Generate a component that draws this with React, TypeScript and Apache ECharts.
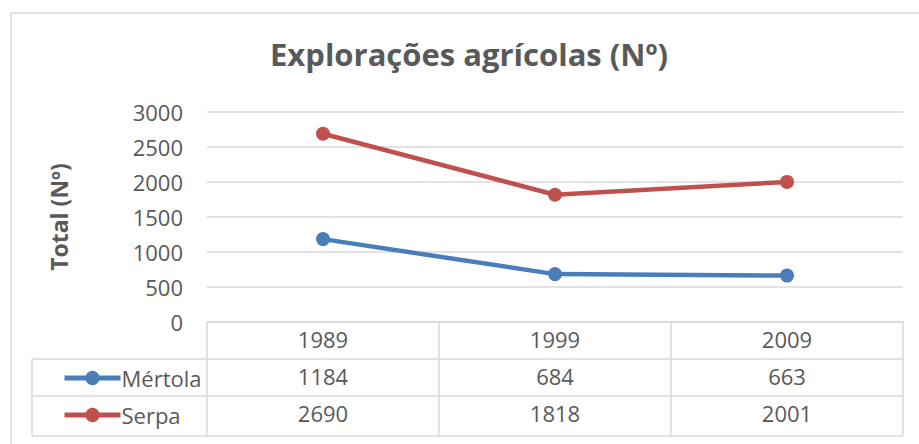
import React, { useEffect, useRef } from "react";
import * as echarts from "echarts";

const TITLE = "Explorações agrícolas (Nº)";
const Y_NAME = "Total (Nº)";
const YEARS = ["1989", "1999", "2009"];
const MERTOLA = [1184, 684, 663];
const SERPA = [2690, 1818, 2001];
const SERIES_NAMES = ["Mértola", "Serpa"];
const COLORS = ["#4a7ebb", "#c0504d"];

const FONT = "'Open Sans', 'Noto Sans', sans-serif";
const TEXT = "#595959";
const GRID = "#d9d9d9";
const FS = 22;

export default function App() {
  const ref = useRef<HTMLDivElement>(null);
  useEffect(() => {
    if (!ref.current) return;
    const chart = echarts.init(ref.current, undefined, { renderer: "svg" });
    const rowAxis = (data: number[], offset: number) => ({
      type: "category",
      position: "bottom",
      offset,
      data: data.map(String),
      axisLine: { show: false },
      axisTick: { show: false },
      splitLine: { show: false },
      axisLabel: { color: TEXT, fontSize: FS, fontFamily: FONT, margin: 6 },
    });
    chart.setOption({
      animation: false,
      textStyle: { fontFamily: FONT },
      title: {
        text: TITLE,
        left: 270,
        top: 38,
        padding: 0,
        textStyle: { color: TEXT, fontSize: 31, fontWeight: "bold", fontFamily: FONT },
      },
      legend: {
        orient: "vertical",
        left: 62,
        top: 367,
        padding: 0,
        itemWidth: 56,
        itemHeight: 18,
        itemGap: 15,
        data: SERIES_NAMES,
        lineStyle: { width: 5 },
        textStyle: { color: TEXT, fontSize: FS, fontFamily: FONT, lineHeight: 22, padding: [0, 0, 0, -4] },
      },
      grid: { left: 207, right: 16, top: 112, bottom: 122, containLabel: false },
      xAxis: [
        {
          type: "category",
          data: YEARS,
          position: "bottom",
          axisLine: { show: true, lineStyle: { color: GRID, width: 1.5 } },
          axisTick: { show: true, interval: 0, length: 114, lineStyle: { color: GRID, width: 1.5 } },
          axisLabel: { color: TEXT, fontSize: FS, fontFamily: FONT, margin: 6 },
          splitLine: { show: false },
        },
        rowAxis(MERTOLA, 37),
        rowAxis(SERPA, 74),
      ],
      yAxis: {
        type: "value",
        min: 0,
        max: 3000,
        interval: 500,
        name: Y_NAME,
        nameLocation: "middle",
        nameRotate: 90,
        nameGap: 137,
        nameTextStyle: { color: TEXT, fontSize: 23, fontWeight: "bold", fontFamily: FONT },
        axisLine: { show: false },
        axisTick: { show: false },
        axisLabel: {
          color: TEXT,
          fontSize: FS,
          fontFamily: FONT,
          margin: 24,
          formatter: (v: number) => String(v),
        },
        splitLine: { lineStyle: { color: GRID, width: 1.5 } },
      },
      series: [
        {
          name: SERIES_NAMES[0],
          type: "line",
          data: MERTOLA,
          xAxisIndex: 0,
          color: COLORS[0],
          symbol: "circle",
          symbolSize: 14,
          lineStyle: { width: 4.5 },
        },
        {
          name: SERIES_NAMES[1],
          type: "line",
          data: SERPA,
          xAxisIndex: 0,
          color: COLORS[1],
          symbol: "circle",
          symbolSize: 14,
          lineStyle: { width: 4.5 },
        },
      ],
      graphic: [
        {
          type: "rect",
          shape: { x: 11, y: 13, width: 1000, height: 1000 },
          style: { fill: "none", stroke: GRID, lineWidth: 1.5 },
          silent: true,
        },
        { type: "line", shape: { x1: 32, y1: 359, x2: 903, y2: 359 }, style: { stroke: GRID, lineWidth: 1.5 } },
        { type: "line", shape: { x1: 32, y1: 396, x2: 903, y2: 396 }, style: { stroke: GRID, lineWidth: 1.5 } },
        { type: "line", shape: { x1: 32, y1: 436, x2: 903, y2: 436 }, style: { stroke: GRID, lineWidth: 1.5 } },
        { type: "line", shape: { x1: 32, y1: 359, x2: 32, y2: 436 }, style: { stroke: GRID, lineWidth: 1.5 } },
      ],
    });
    return () => chart.dispose();
  }, []);
  return (
    <div
      ref={ref}
      style={{ position: "fixed", left: 0, top: 0, width: 919, height: 444, background: "#fff" }}
    />
  );
}
